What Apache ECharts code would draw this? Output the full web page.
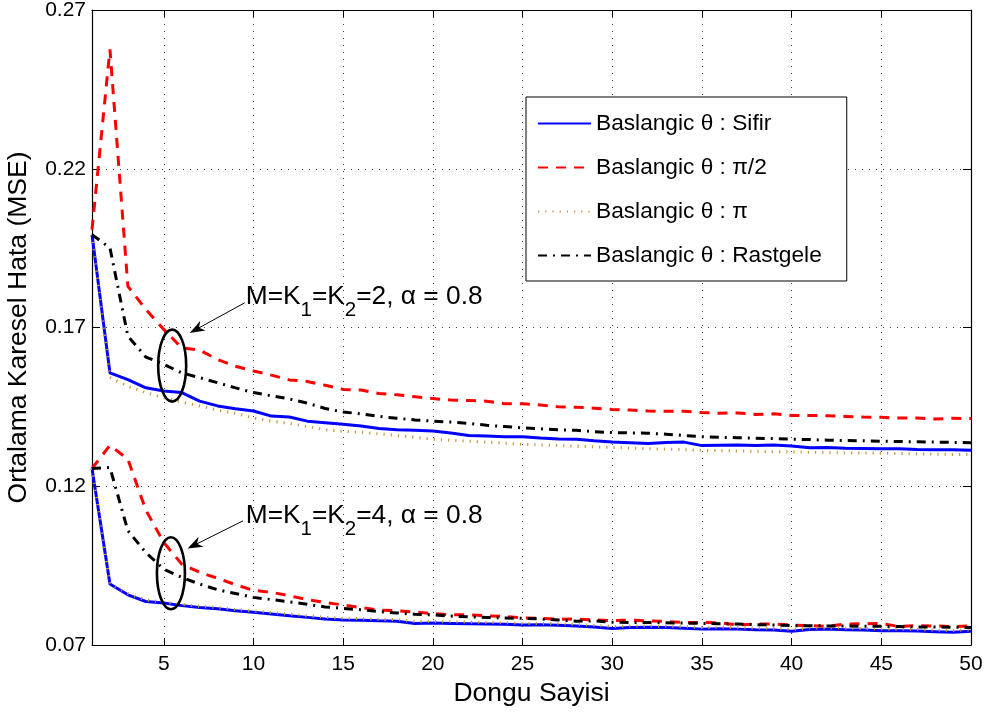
<!DOCTYPE html>
<html><head><meta charset="utf-8">
<script src="https://cdn.jsdelivr.net/npm/echarts@6/dist/echarts.min.js"></script>
<style>html,body{margin:0;padding:0;background:#fff}#c{width:992px;height:713px}</style>
</head><body><div id="c"></div>
<script>
const iterations = [1,2,3,4,5,6,7,8,9,10,11,12,13,14,15,16,17,18,19,20,21,22,23,24,25,26,27,28,29,30,31,32,33,34,35,36,37,38,39,40,41,42,43,44,45,46,47,48,49,50];
const xTickValues = [5,10,15,20,25,30,35,40,45,50];
const yMin = 0.07, yMax = 0.27, yStep = 0.05;
const legendNames = ['Baslangic θ : Sifir', 'Baslangic θ : π/2', 'Baslangic θ : π', 'Baslangic θ : Rastgele'];

// M=K1=K2=2
const sifirK2 = [0.1992,0.1557,0.1536,0.1510,0.1500,0.1495,0.1468,0.1453,0.1444,0.1437,0.1421,0.1418,0.1405,0.1400,0.1395,0.1390,0.1382,0.1378,0.1376,0.1374,0.1368,0.1360,0.1358,0.1356,0.1356,0.1352,0.1349,0.1348,0.1343,0.1339,0.1337,0.1335,0.1338,0.1339,0.1328,0.1329,0.1330,0.1328,0.1330,0.1327,0.1321,0.1322,0.1320,0.1319,0.1318,0.1318,0.1316,0.1315,0.1315,0.1313];
const pi2K2 = [0.2008,0.2576,0.1830,0.1757,0.1694,0.1636,0.1629,0.1599,0.1578,0.1563,0.1550,0.1535,0.1530,0.1518,0.1505,0.1503,0.1492,0.1488,0.1482,0.1476,0.1472,0.1470,0.1468,0.1460,0.1460,0.1456,0.1450,0.1449,0.1446,0.1442,0.1440,0.1437,0.1436,0.1436,0.1432,0.1430,0.1431,0.1426,0.1428,0.1423,0.1423,0.1422,0.1420,0.1418,0.1417,0.1415,0.1415,0.1412,0.1414,0.1413];
const piK2 = [0.1992,0.1542,0.1515,0.1495,0.1479,0.1465,0.1453,0.1440,0.1430,0.1415,0.1405,0.1398,0.1388,0.1378,0.1373,0.1370,0.1365,0.1360,0.1354,0.1348,0.1345,0.1342,0.1339,0.1336,0.1332,0.1330,0.1328,0.1326,0.1324,0.1322,0.1320,0.1318,0.1317,0.1315,0.1313,0.1312,0.1311,0.1310,0.1309,0.1308,0.1307,0.1306,0.1305,0.1305,0.1304,0.1303,0.1302,0.1301,0.1300,0.1300];
const rastK2 = [0.1992,0.1951,0.1673,0.1607,0.1584,0.1557,0.1542,0.1526,0.1510,0.1495,0.1485,0.1475,0.1462,0.1445,0.1434,0.1428,0.1420,0.1414,0.1409,0.1405,0.1402,0.1398,0.1392,0.1388,0.1384,0.1381,0.1378,0.1376,0.1372,0.1369,0.1368,0.1367,0.1364,0.1360,0.1356,0.1354,0.1353,0.1351,0.1350,0.1348,0.1347,0.1345,0.1344,0.1343,0.1342,0.1341,0.1340,0.1339,0.1338,0.1337];

// M=K1=K2=4
const sifirK4 = [0.1256,0.0892,0.0858,0.0837,0.0832,0.0824,0.0818,0.0814,0.0808,0.0803,0.0798,0.0792,0.0787,0.0782,0.0779,0.0778,0.0776,0.0775,0.0768,0.0769,0.0768,0.0767,0.0766,0.0765,0.0763,0.0764,0.0762,0.0760,0.0757,0.0752,0.0755,0.0756,0.0755,0.0753,0.0750,0.0751,0.0750,0.0748,0.0747,0.0743,0.0749,0.0750,0.0748,0.0747,0.0745,0.0745,0.0744,0.0742,0.0740,0.0743];
const pi2K4 = [0.1256,0.1329,0.1285,0.1125,0.1023,0.0955,0.0929,0.0910,0.0890,0.0872,0.0866,0.0855,0.0843,0.0834,0.0826,0.0818,0.0810,0.0808,0.0804,0.0799,0.0795,0.0795,0.0792,0.0790,0.0785,0.0784,0.0781,0.0782,0.0779,0.0777,0.0778,0.0776,0.0774,0.0771,0.0771,0.0770,0.0763,0.0766,0.0766,0.0763,0.0761,0.0759,0.0766,0.0767,0.0768,0.0758,0.0761,0.0760,0.0758,0.0760];
const piK4 = [0.1256,0.0892,0.0862,0.0842,0.0835,0.0828,0.0822,0.0818,0.0812,0.0807,0.0802,0.0797,0.0792,0.0787,0.0784,0.0783,0.0781,0.0780,0.0774,0.0774,0.0773,0.0772,0.0771,0.0770,0.0768,0.0768,0.0767,0.0765,0.0762,0.0758,0.0760,0.0760,0.0759,0.0758,0.0755,0.0756,0.0755,0.0753,0.0752,0.0749,0.0753,0.0754,0.0753,0.0752,0.0750,0.0750,0.0749,0.0747,0.0746,0.0748];
const rastK4 = [0.1256,0.1259,0.1060,0.0991,0.0939,0.0913,0.0892,0.0874,0.0862,0.0850,0.0843,0.0836,0.0828,0.0820,0.0815,0.0811,0.0805,0.0801,0.0797,0.0795,0.0791,0.0789,0.0787,0.0785,0.0784,0.0782,0.0779,0.0775,0.0776,0.0772,0.0771,0.0771,0.0770,0.0769,0.0768,0.0767,0.0766,0.0764,0.0763,0.0761,0.0761,0.0760,0.0760,0.0759,0.0759,0.0758,0.0757,0.0757,0.0756,0.0755];

// annotations (data coordinates)
const annotations = [
  {k: '2', ellipse: [5.47, 0.1580], tip: [6.45, 0.1683], tail: [9.52, 0.1778], text: [9.57, 0.1794]},
  {k: '4', ellipse: [5.40, 0.0926], tip: [6.33, 0.1004], tail: [9.42, 0.1091], text: [9.57, 0.1104]}
];

const FONT = '"Liberation Sans", Arial, Helvetica, sans-serif';
const styles = [
  {color: '#0000ff', type: 'solid', width: 3},
  {color: '#ff0000', type: [10, 8], width: 3},
  {color: '#c8963c', type: [1.2, 6], width: 3},
  {color: '#000000', type: [9, 6, 2, 6], width: 3}
];
const groups = [[sifirK2, pi2K2, piK2, rastK2], [sifirK4, pi2K4, piK4, rastK4]];

const series = [];
groups.forEach(g => g.forEach((arr, i) => {
  series.push({
    name: legendNames[i], type: 'line', showSymbol: false, symbol: 'none',
    data: iterations.map((x, j) => [x, arr[j]]),
    lineStyle: {color: styles[i].color, type: styles[i].type, width: styles[i].width, cap: 'butt'},
    itemStyle: {color: styles[i].color},
    xAxisIndex: 0, yAxisIndex: 0, z: 3, animation: false
  });
}));

const chart = echarts.init(document.getElementById('c'), null, {renderer: 'canvas'});
const gridLine = {show: true, lineStyle: {color: '#444', width: 1, type: [1, 6]}};
chart.setOption({
  backgroundColor: '#fff',
  animation: false,
  textStyle: {fontFamily: FONT},
  grid: {left: 92, right: 21, top: 10, bottom: 68, containLabel: false, outerBoundsMode: 'none'},
  legend: {
    data: legendNames, orient: 'vertical', left: 526, top: 97,
    padding: [15, 25, 14, 11], itemGap: 21, itemWidth: 53, itemHeight: 14,
    backgroundColor: '#fff', borderColor: '#000', borderWidth: 1,
    itemStyle: {opacity: 0, borderWidth: 0},
    textStyle: {fontSize: 22.7, color: '#000', fontFamily: FONT},
    selectedMode: false
  },
  xAxis: [{
    type: 'value', min: 1, max: 50, position: 'bottom',
    name: 'Dongu Sayisi', nameLocation: 'middle', nameGap: 32,
    nameTextStyle: {fontSize: 26.5, color: '#000', fontFamily: FONT},
    axisLine: {show: true, onZero: false, lineStyle: {color: '#000', width: 1.2}},
    axisTick: {show: true, inside: true, length: 7, customValues: xTickValues, lineStyle: {color: '#000'}},
    axisLabel: {show: true, customValues: xTickValues, margin: 9, fontSize: 21, color: '#000', fontFamily: FONT},
    splitLine: gridLine
  }, {
    type: 'value', min: 1, max: 50, position: 'top',
    axisLine: {show: true, onZero: false, lineStyle: {color: '#000', width: 1.2}},
    axisTick: {show: true, inside: true, length: 7, customValues: xTickValues, lineStyle: {color: '#000'}},
    axisLabel: {show: false, customValues: xTickValues},
    splitLine: {show: false}
  }],
  yAxis: [{
    type: 'value', min: yMin, max: yMax, interval: yStep, position: 'left',
    name: 'Ortalama Karesel Hata (MSE)', nameLocation: 'middle', nameGap: 60, nameRotate: 90,
    nameTextStyle: {fontSize: 26.5, color: '#000', fontFamily: FONT},
    axisLine: {show: true, onZero: false, lineStyle: {color: '#000', width: 1.2}},
    axisTick: {show: true, inside: true, length: 8, lineStyle: {color: '#000'}},
    axisLabel: {margin: 6, fontSize: 21, color: '#000', fontFamily: FONT, formatter: v => v.toFixed(2)},
    splitLine: gridLine
  }, {
    type: 'value', min: yMin, max: yMax, interval: yStep, position: 'right',
    axisLine: {show: true, onZero: false, lineStyle: {color: '#000', width: 1.2}},
    axisTick: {show: true, inside: true, length: 8, lineStyle: {color: '#000'}},
    axisLabel: {show: false},
    splitLine: {show: false}
  }],
  series: series
});

const px = v => chart.convertToPixel({xAxisIndex: 0, yAxisIndex: 0}, v);
const graphics = [];
annotations.forEach(a => {
  const c = px(a.ellipse), tip = px(a.tip), tail = px(a.tail), t = px(a.text);
  graphics.push({type: 'ellipse', shape: {cx: c[0], cy: c[1], rx: 14, ry: 36},
    style: {fill: 'none', stroke: '#000', lineWidth: 2.6}, z: 10});
  const dx = tip[0] - tail[0], dy = tip[1] - tail[1], L = Math.hypot(dx, dy);
  const ux = dx / L, uy = dy / L, nx = -uy, ny = ux;
  const hl = 15, hw = 5.5;
  const bx = tip[0] - ux * hl, by = tip[1] - uy * hl;
  const notch = [tip[0] - ux * hl * 0.7, tip[1] - uy * hl * 0.7];
  graphics.push({type: 'line', shape: {x1: tail[0], y1: tail[1], x2: notch[0], y2: notch[1]},
    style: {stroke: '#000', lineWidth: 1}, z: 10});
  graphics.push({type: 'polygon', shape: {points: [tip, [bx + nx * hw, by + ny * hw], notch, [bx - nx * hw, by - ny * hw]]},
    style: {fill: '#000'}, z: 10});
  graphics.push({type: 'text', x: t[0], y: t[1] - 13.5, z: 10,
    style: {
      text: '{a|M=K}{s|1}{a|=K}{s|2}{a|=' + a.k + ', α = 0.8}',
      fill: '#000', align: 'left', verticalAlign: 'top',
      rich: {
        a: {fontSize: 26.3, fontFamily: FONT, verticalAlign: 'top', lineHeight: 27, fill: '#000'},
        s: {fontSize: 20.5, fontFamily: FONT, verticalAlign: 'top', lineHeight: 20, padding: [16, 0, 0, 0], fill: '#000'}
      }
    }});
});
chart.setOption({graphic: graphics});
</script></body></html>
